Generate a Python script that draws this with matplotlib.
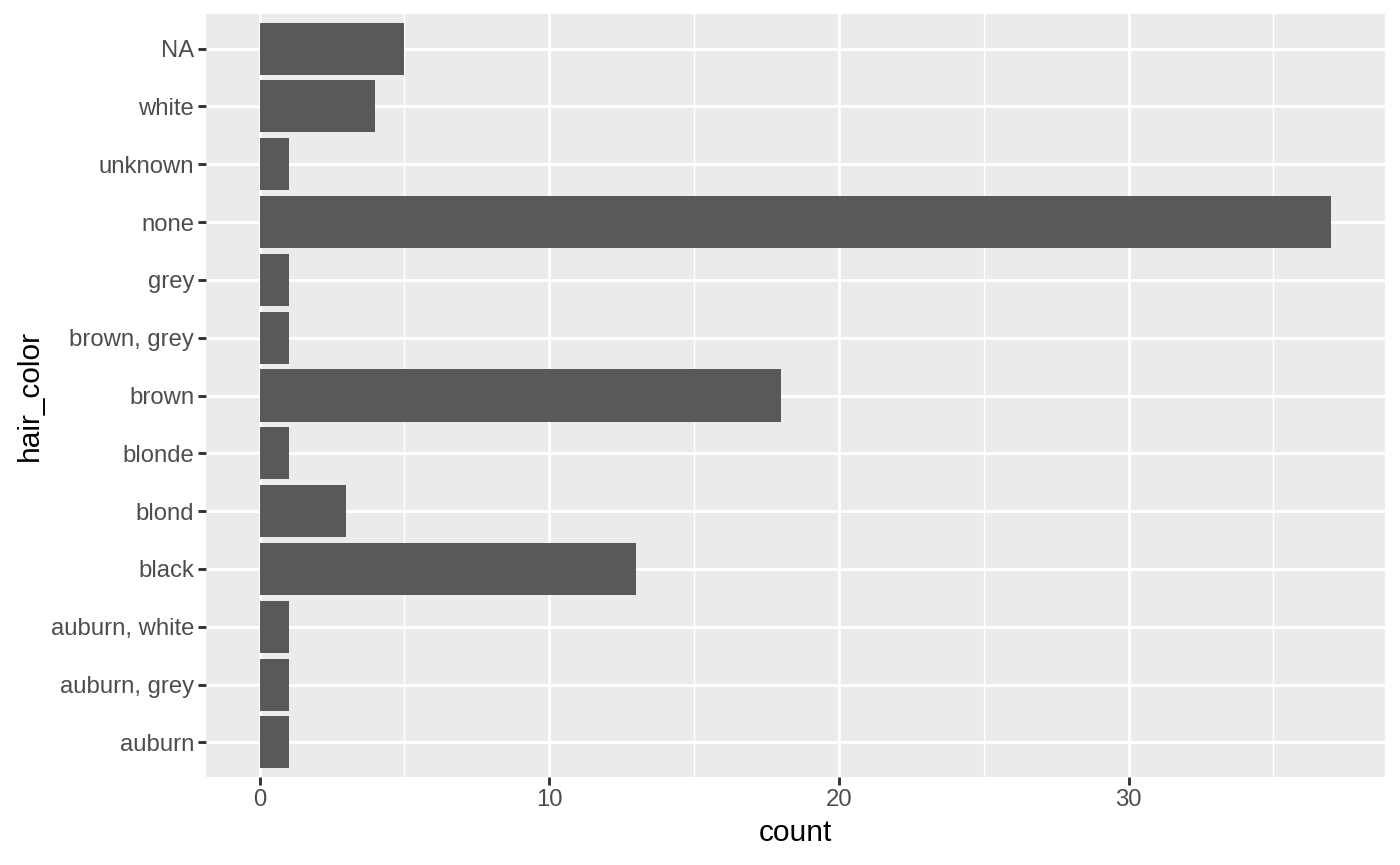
import matplotlib
matplotlib.use("Agg")
import matplotlib.pyplot as plt
from matplotlib.ticker import MultipleLocator

categories = ["auburn", "auburn, grey", "auburn, white", "black", "blond", "blonde",
              "brown", "brown, grey", "grey", "none", "unknown", "white", "NA"]
counts = [1, 1, 1, 13, 3, 1, 18, 1, 1, 37, 1, 4, 5]
x_ticks = [0, 10, 20, 30]

plt.rcParams['font.family'] = ['Liberation Sans', 'DejaVu Sans']

fig = plt.figure(figsize=(14, 8.65), dpi=100)
ax = fig.add_axes([206/1400, 1-777/865, (1385-206)/1400, (777-14)/865])
ax.set_facecolor('#EBEBEB')

ypos = list(range(1, len(categories) + 1))
ax.barh(ypos, counts, height=0.9, color='#595959', zorder=3)

xmax = max(counts)
ax.set_xlim(-0.05*xmax, xmax*1.05)
ax.set_ylim(0.4, len(categories) + 0.6)

ax.set_xticks(x_ticks)
ax.xaxis.set_minor_locator(MultipleLocator(5))
ax.set_yticks(ypos)
ax.set_yticklabels(categories)

ax.grid(which='major', color='white', linewidth=2.1, zorder=1)
ax.grid(which='minor', axis='x', color='white', linewidth=1.05, zorder=1)
ax.set_axisbelow(True)
for s in ax.spines.values():
    s.set_visible(False)

ax.tick_params(axis='both', which='major', length=5.5, width=2.1, color='#333333',
               labelcolor='#4D4D4D', labelsize=17.2, pad=3)
ax.tick_params(axis='both', which='minor', length=0)

ax.set_xlabel('count', fontsize=21.5, color='black', labelpad=6)
ax.set_ylabel('hair_color', fontsize=21.5, color='black', labelpad=5)

fig.savefig('out.png', dpi=100, facecolor='white')
